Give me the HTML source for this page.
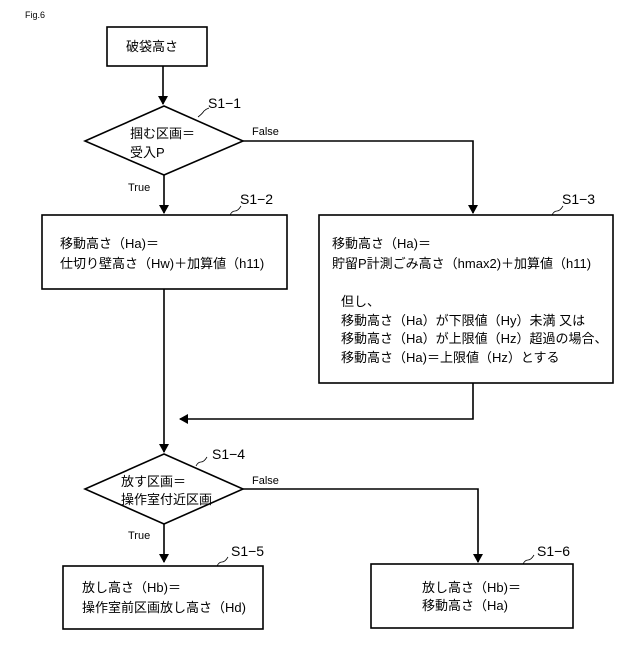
<!DOCTYPE html>
<html><head><meta charset="utf-8"><style>
body{margin:0;background:#fff}
svg text{font-family:"Liberation Sans","Noto Sans CJK JP",sans-serif;fill:#000}
</style></head><body>
<svg width="640" height="640" viewBox="0 0 640 640" xmlns="http://www.w3.org/2000/svg">
<defs><marker id="a" markerWidth="10" markerHeight="10" refX="8" refY="5" orient="auto" markerUnits="userSpaceOnUse"><path d="M0,0 L9,5 L0,10 Z" fill="#000"/></marker></defs>
<g stroke="#000" stroke-width="1.6" fill="none">
<rect x="107" y="27" width="100" height="39" fill="#fff"/>
<line x1="163" y1="66" x2="163" y2="104" marker-end="url(#a)"/>
<polygon points="164,106 243,141 164,175 85,141" fill="#fff"/>
<polyline points="243,141 473,141 473,213" marker-end="url(#a)"/>
<line x1="164" y1="175" x2="164" y2="213" marker-end="url(#a)"/>
<rect x="42" y="215" width="245" height="74" fill="#fff"/>
<rect x="319" y="215" width="294" height="168" fill="#fff"/>
<line x1="164" y1="289" x2="164" y2="452" marker-end="url(#a)"/>
<polyline points="473,383 473,419 180,419" marker-end="url(#a)"/>
<polygon points="164,454 243,489 164,524 85,489" fill="#fff"/>
<polyline points="243,489 478,489 478,562" marker-end="url(#a)"/>
<line x1="164" y1="524" x2="164" y2="562" marker-end="url(#a)"/>
<rect x="63" y="566" width="200" height="63" fill="#fff"/>
<rect x="371" y="564" width="202" height="64" fill="#fff"/>
<g stroke-width="0.8">
<path d="M198,117 q4,-3 6,-6 q2,-2 5,-3"/>
<path d="M230,215 q2,-4 5,-4 q3,0 6,-5"/>
<path d="M552,215 q2,-4 5,-4 q3,0 6,-5"/>
<path d="M196,466 q2,-4 5,-4 q3,0 6,-5"/>
<path d="M217,566 q2,-4 5,-4 q3,0 6,-5"/>
<path d="M523,564 q2,-4 5,-4 q3,0 6,-5"/>
</g>
</g>
<text x="25" y="18" font-size="9">Fig.6</text>
<text x="126" y="51" font-size="13">破袋高さ</text>
<text x="208" y="108" font-size="14">S1−1</text>
<text x="130" y="138" font-size="13">掴む区画＝</text>
<text x="130" y="157" font-size="13">受入P</text>
<text x="252" y="135" font-size="11">False</text>
<text x="128" y="191" font-size="11">True</text>
<text x="240" y="204" font-size="14">S1−2</text>
<text x="60" y="248" font-size="13">移動高さ（Ha)＝</text>
<text x="60" y="268" font-size="13">仕切り壁高さ（Hw)＋加算値（h11)</text>
<text x="562" y="204" font-size="14">S1−3</text>
<text x="332" y="248" font-size="13">移動高さ（Ha)＝</text>
<text x="332" y="268" font-size="13">貯留P計測ごみ高さ（hmax2)＋加算値（h11)</text>
<text x="341" y="306" font-size="13">但し、</text>
<text x="341" y="325" font-size="13">移動高さ（Ha）が下限値（Hy）未満 又は</text>
<text x="341" y="343" font-size="13">移動高さ（Ha）が上限値（Hz）超過の場合、</text>
<text x="341" y="362" font-size="13">移動高さ（Ha)＝上限値（Hz）とする</text>
<text x="212" y="459" font-size="14">S1−4</text>
<text x="121" y="486" font-size="13">放す区画＝</text>
<text x="121" y="504" font-size="13">操作室付近区画</text>
<text x="252" y="484" font-size="11">False</text>
<text x="128" y="539" font-size="11">True</text>
<text x="231" y="556" font-size="14">S1−5</text>
<text x="82" y="592" font-size="13">放し高さ（Hb)＝</text>
<text x="82" y="612" font-size="13">操作室前区画放し高さ（Hd)</text>
<text x="537" y="556" font-size="14">S1−6</text>
<text x="422" y="592" font-size="13">放し高さ（Hb)＝</text>
<text x="422" y="610" font-size="13">移動高さ（Ha)</text>
</svg>
</body></html>
